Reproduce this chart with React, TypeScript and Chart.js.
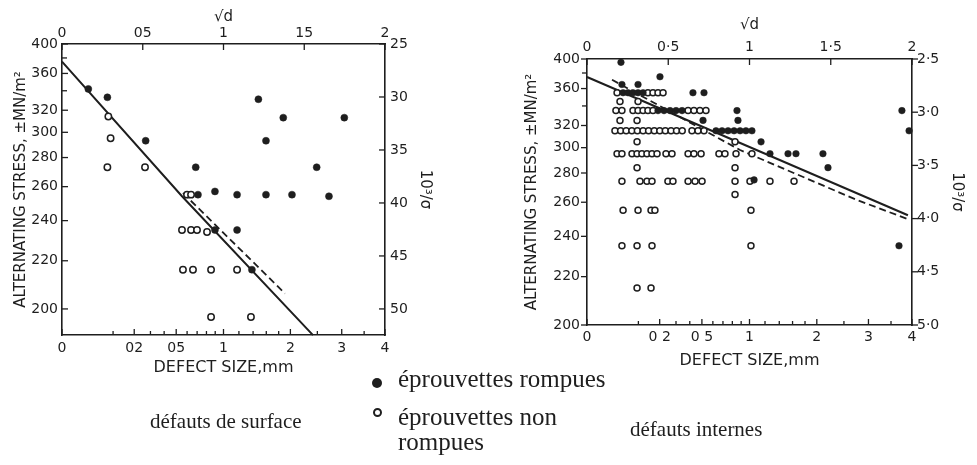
import React, { useEffect, useRef } from "react";
import { Chart, registerables } from "chart.js";

Chart.register(...registerables);

const INK = "#1e1e1e";
const SANS = "'DejaVu Sans', 'Liberation Sans', sans-serif";
const SERIF = "'Liberation Serif', 'Times New Roman', serif";

// ---------- axis ticks ----------
const STRESS_TICKS = [400, 360, 320, 300, 280, 260, 240, 220, 200]; // MN/m²
const STRESS_MINOR = [380, 340];
const INV_TICKS = [2.5, 3.0, 3.5, 4.0, 4.5, 5.0]; // 10³/σ
const ROOT_TICKS = [0, 0.5, 1, 1.5, 2]; // √d
const DEFECT_TICKS_MM = [0, 0.2, 0.5, 1, 2, 3, 4]; // d, mm
const DEFECT_MINOR_MM = [0.1, 0.3, 0.4, 0.6, 0.7, 0.8, 0.9, 1.2, 1.4, 1.6, 1.8, 2.5, 3.5];

const SURF_INV_LABELS = ["25", "30", "35", "40", "45", "50"];
const SURF_ROOT_LABELS = ["0", "05", "1", "15", "2"];
const SURF_DEFECT_LABELS = ["0", "02", "05", "1", "2", "3", "4"];
const INT_INV_LABELS = ["2·5", "3·0", "3·5", "4·0", "4·5", "5·0"];
const INT_ROOT_LABELS = ["0", "0·5", "1", "1·5", "2"];
const INT_DEFECT_LABELS = ["0", "0 2", "0 5", "1", "2", "3", "4"];

// ---------- surface defects (x = √d, stress in MN/m²) ----------
const surfBrokenX = [0.163, 0.281, 1.216, 1.37, 1.748, 0.518, 1.263, 0.828, 1.577, 0.842, 0.947, 1.084, 1.263, 1.424, 1.653, 0.947, 1.084, 1.176];
const surfBrokenS = [342, 333, 331, 313, 313, 293, 293, 273, 273, 255, 257, 255, 255, 255, 254, 235, 235, 216];
const surfIntactX = [0.287, 0.301, 0.281, 0.514, 0.774, 0.799, 0.743, 0.799, 0.836, 0.898, 0.749, 0.811, 0.923, 1.084, 0.923, 1.17];
const surfIntactS = [314, 295, 273, 273, 255, 255, 235, 235, 235, 234, 216, 216, 216, 216, 197, 197];
const surfSolidX = [0, 0.743, 1.554];
const surfSolidS = [375, 254, 190.6];
const surfDashX = [0.749, 1.381];
const surfDashS = [256, 206];

// ---------- internal defects ----------
const intBrokenX = [
  0.209, 0.449, 0.215, 0.314,
  0.222, 0.252, 0.283, 0.314, 0.345, 0.652, 0.72,
  0.437, 0.474, 0.511, 0.548, 0.585, 0.923, 1.938,
  0.714, 0.929,
  0.794, 0.831, 0.868, 0.905, 0.942, 0.978, 1.015, 1.982,
  1.071,
  1.126, 1.237, 1.286, 1.452,
  1.483,
  1.028,
  1.92,
];
const intBrokenS = [
  395, 375, 365, 365,
  355, 355, 355, 355, 355, 355, 355,
  335, 335, 335, 335, 335, 335, 335,
  325, 325,
  315, 315, 315, 315, 315, 315, 315, 315,
  305,
  295, 295, 295, 295,
  284,
  275,
  235,
];
const intIntactX = [
  0.185, 0.375, 0.406, 0.437, 0.468,
  0.203, 0.314,
  0.178, 0.215, 0.283, 0.314, 0.345, 0.375, 0.406, 0.622, 0.658, 0.695, 0.732,
  0.203, 0.308,
  0.172, 0.207, 0.241, 0.276, 0.31, 0.345, 0.379, 0.414, 0.448, 0.482, 0.517, 0.551, 0.586, 0.646, 0.683, 0.72,
  0.308, 0.911,
  0.185, 0.215, 0.277, 0.308, 0.338, 0.369, 0.4, 0.431, 0.486, 0.523, 0.622, 0.658, 0.702, 0.812, 0.849, 0.917, 1.015,
  0.308, 0.911,
  0.215, 0.326, 0.369, 0.4, 0.498, 0.529, 0.622, 0.665, 0.708, 0.911, 1.003, 1.126, 1.274,
  0.911,
  0.222, 0.314, 0.394, 0.418, 1.009,
  0.215, 0.308, 0.4, 1.009,
  0.308, 0.394,
];
const intIntactS = [
  355, 355, 355, 355, 355,
  345, 345,
  335, 335, 335, 335, 335, 335, 335, 335, 335, 335, 335,
  325, 325,
  315, 315, 315, 315, 315, 315, 315, 315, 315, 315, 315, 315, 315, 315, 315, 315,
  305, 305,
  295, 295, 295, 295, 295, 295, 295, 295, 295, 295, 295, 295, 295, 295, 295, 295, 295,
  284, 284,
  274, 274, 274, 274, 274, 274, 274, 274, 274, 274, 274, 274, 274,
  265,
  255, 255, 255, 255, 255,
  235, 235, 235, 235,
  215, 215,
];
const intSolidX = [0, 1.975];
const intSolidS = [374.6, 252];
const intDashX = [0.154, 0.942, 1.662, 1.975];
const intDashS = [371, 298, 261.4, 249.7];

const SURFACE = {
  brokenX: surfBrokenX, brokenS: surfBrokenS, intactX: surfIntactX, intactS: surfIntactS,
  solidX: surfSolidX, solidS: surfSolidS, dashX: surfDashX, dashS: surfDashS,
  uMax: 5.246, leftW: 62, rightW: 105, topH: 44, bottomH: 130,
  invLabels: SURF_INV_LABELS, rootLabels: SURF_ROOT_LABELS, defectLabels: SURF_DEFECT_LABELS,
  leftTickPad: 4, rightTickPad: 5, topTickPad: 2.6, bottomTickPad: 4.6,
  leftTitlePad: 12, rightTitlePad: 56, topTitlePad: 8, bottomTitlePad: 87.4,
  yTickDir: 1, r: 3.2,
};
const INTERNAL = {
  brokenX: intBrokenX, brokenS: intBrokenS, intactX: intIntactX, intactS: intIntactS,
  solidX: intSolidX, solidS: intSolidS, dashX: intDashX, dashS: intDashS,
  uMax: 5.0, leftW: 97, rightW: 65, topH: 59, bottomH: 140,
  invLabels: INT_INV_LABELS, rootLabels: INT_ROOT_LABELS, defectLabels: INT_DEFECT_LABELS,
  leftTickPad: 7, rightTickPad: 5, topTickPad: 3.6, bottomTickPad: 3.6,
  leftTitlePad: 33, rightTitlePad: 11, topTitlePad: 16, bottomTitlePad: 94.4,
  yTickDir: -1, r: 3,
};

function tickPlugin(spec: any) {
  return {
    id: "innerTicks",
    afterDraw(chart: any) {
      const { ctx, chartArea: a, scales } = chart;
      ctx.save();
      ctx.strokeStyle = INK;
      ctx.lineWidth = 1.3;
      const mark = (sc: any, value: number, len: number, dir: number) => {
        const p = sc.getPixelForValue(value);
        ctx.beginPath();
        if (sc.position === "left") { ctx.moveTo(a.left, p); ctx.lineTo(a.left + dir * len, p); }
        else if (sc.position === "right") { ctx.moveTo(a.right, p); ctx.lineTo(a.right - dir * len, p); }
        else if (sc.position === "top") { ctx.moveTo(p, a.top); ctx.lineTo(p, a.top + dir * len); }
        else { ctx.moveTo(p, a.bottom); ctx.lineTo(p, a.bottom - dir * len); }
        ctx.stroke();
      };
      Object.values(scales).forEach((sc: any) => {
        const vertical = sc.position === "left" || sc.position === "right";
        const dir = vertical ? spec.yTickDir : 1;
        sc.ticks.forEach((t: any) => mark(sc, t.value, 6, dir));
      });
      DEFECT_MINOR_MM.forEach((d) => mark(scales.x, Math.sqrt(d), 4, 1));
      STRESS_MINOR.forEach((s) => mark(scales.y, 1000 / s, 5, spec.yTickDir));
      ctx.restore();
    },
  };
}

function makeConfig(s: any) {
  const pts = (xs: number[], ss: number[]) => xs.map((x, i) => ({ x, y: 1000 / ss[i] }));
  const tickFont = { family: SANS, size: 14 };
  const grid = { display: false, drawTicks: false };
  const border = { display: true, color: INK, width: 1.6 };
  const yBase = { type: "linear", min: 2.5, max: s.uMax, reverse: true, grid, border };
  const xBase = { type: "linear", min: 0, max: 2, grid, border };
  return {
    type: "scatter",
    data: {
      datasets: [
        { label: "fit", data: pts(s.solidX, s.solidS), showLine: true, borderColor: INK, borderWidth: 2, pointRadius: 0, tension: 0, clip: false, order: 4 },
        { label: "fit (dashed)", data: pts(s.dashX, s.dashS), showLine: true, borderColor: INK, borderWidth: 1.8, borderDash: [7, 4], pointRadius: 0, tension: 0, clip: false, order: 3 },
        { label: "éprouvettes non rompues", data: pts(s.intactX, s.intactS), pointRadius: s.r, pointBackgroundColor: "#ffffff", pointBorderColor: INK, pointBorderWidth: 1.5, clip: false, order: 2 },
        { label: "éprouvettes rompues", data: pts(s.brokenX, s.brokenS), pointRadius: s.r + 0.3, pointBackgroundColor: INK, pointBorderColor: INK, pointBorderWidth: 0.5, clip: false, order: 1 },
      ],
    },
    options: {
      animation: false,
      responsive: false,
      devicePixelRatio: 1,
      events: [],
      layout: { padding: 0 },
      plugins: { legend: { display: false }, tooltip: { enabled: false } },
      scales: {
        x: {
          ...xBase, position: "bottom",
          afterBuildTicks: (sc: any) => { sc.ticks = DEFECT_TICKS_MM.map((d) => ({ value: Math.sqrt(d) })); },
          afterFit: (sc: any) => { sc.height = s.bottomH; },
          ticks: { autoSkip: false, maxRotation: 0, minRotation: 0, padding: s.bottomTickPad, color: INK, font: tickFont, callback: (_v: any, i: number) => s.defectLabels[i] },
          title: { display: true, text: "DEFECT SIZE,mm", color: INK, font: { family: SANS, size: 16 }, padding: { top: 0, bottom: s.bottomTitlePad } },
        },
        x2: {
          ...xBase, position: "top",
          afterBuildTicks: (sc: any) => { sc.ticks = ROOT_TICKS.map((v) => ({ value: v })); },
          afterFit: (sc: any) => { sc.height = s.topH; },
          ticks: { autoSkip: false, maxRotation: 0, minRotation: 0, padding: s.topTickPad, color: INK, font: tickFont, callback: (_v: any, i: number) => s.rootLabels[i] },
          title: { display: true, text: "√d", color: INK, font: { family: SANS, size: 15 }, padding: { top: s.topTitlePad, bottom: 0 } },
        },
        y: {
          ...yBase, position: "left",
          afterBuildTicks: (sc: any) => { sc.ticks = STRESS_TICKS.map((st) => ({ value: 1000 / st })); },
          afterFit: (sc: any) => { sc.width = s.leftW; },
          ticks: { autoSkip: false, padding: s.leftTickPad, color: INK, font: tickFont, callback: (v: number) => String(Math.round(1000 / v)) },
          title: { display: true, text: "ALTERNATING STRESS, ±MN/m²", color: INK, font: { family: SANS, size: 15 }, padding: { top: s.leftTitlePad, bottom: 0 } },
        },
        y2: {
          ...yBase, position: "right",
          afterBuildTicks: (sc: any) => { sc.ticks = INV_TICKS.map((v) => ({ value: v })); },
          afterFit: (sc: any) => { sc.width = s.rightW; },
          ticks: { autoSkip: false, padding: s.rightTickPad, color: INK, font: tickFont, callback: (_v: any, i: number) => s.invLabels[i] },
          title: { display: true, text: "10³/σ", color: INK, font: { family: SANS, size: 15 }, padding: { top: s.rightTitlePad, bottom: 0 } },
        },
      },
    },
    plugins: [tickPlugin(s)],
  };
}

function Panel({ spec, left, width }: { spec: any; left: number; width: number }) {
  const ref = useRef<HTMLCanvasElement>(null);
  useEffect(() => {
    const chart = new Chart(ref.current as HTMLCanvasElement, makeConfig(spec) as any);
    return () => chart.destroy();
  }, [spec]);
  return (
    <canvas
      ref={ref}
      width={width}
      height={465}
      style={{ position: "absolute", left, top: 0, width, height: 465 }}
    />
  );
}

const textStyle = (size: number): React.CSSProperties => ({
  position: "absolute",
  fontFamily: SERIF,
  fontSize: size,
  lineHeight: `${size}px`,
  color: INK,
  whiteSpace: "nowrap",
});

export default function App() {
  return (
    <div style={{ position: "fixed", left: 0, top: 0, width: 977, height: 465, background: "#ffffff", overflow: "hidden" }}>
      <Panel spec={SURFACE} left={0} width={490} />
      <Panel spec={INTERNAL} left={490} width={487} />

      <div style={{ position: "absolute", left: 372, top: 378, width: 10, height: 10, borderRadius: "50%", background: INK }} />
      <span style={{ ...textStyle(25), left: 398, top: 366 }}>éprouvettes rompues</span>

      <div style={{ position: "absolute", left: 372.5, top: 407.5, width: 9, height: 9, boxSizing: "border-box", borderRadius: "50%", border: `2px solid ${INK}`, background: "#fff" }} />
      <span style={{ ...textStyle(25), left: 398, top: 404 }}>éprouvettes non</span>
      <span style={{ ...textStyle(25), left: 398, top: 429 }}>rompues</span>

      <span style={{ ...textStyle(21), left: 150, top: 411 }}>défauts de surface</span>
      <span style={{ ...textStyle(21), left: 630, top: 419 }}>défauts internes</span>
    </div>
  );
}
